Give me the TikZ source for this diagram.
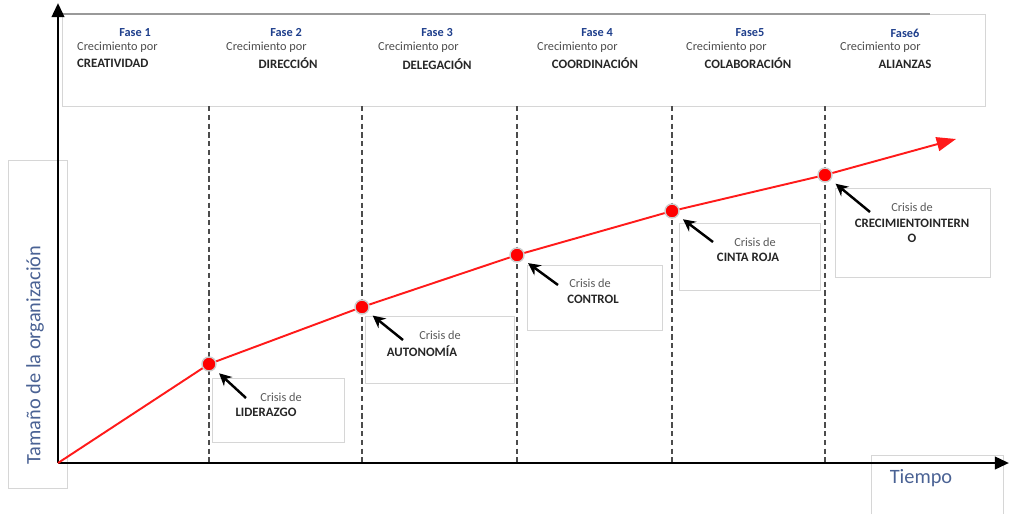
\documentclass[tikz,border=0pt]{standalone}
\usepackage{fontspec}
\setmainfont{Carlito}
\usetikzlibrary{arrows.meta}
\definecolor{fasecol}{HTML}{1F3F8C}
\definecolor{ejecol}{HTML}{4A6294}
\definecolor{cajagris}{HTML}{D6D6D6}
\definecolor{rojo}{HTML}{FF1A1A}
\tikzset{
  caja/.style={draw=cajagris, line width=0.5pt},
  eje/.style={line width=1.6pt, -{Triangle[length=8pt,width=7pt]}},
  guia/.style={black!70, line width=0.9pt, densely dashed},
  linea/.style={rojo, line width=1.1pt},
  punto/.style={circle, fill=red, draw=black!20, line width=0.8pt, inner sep=0pt, minimum size=0.28cm},
  flecha/.style={line width=1.4pt, -{Stealth[length=7pt,width=7pt]}, shorten >=0.12cm},
  fase/.style={font=\fontsize{7}{8}\selectfont\bfseries, text=fasecol},
  crec/.style={font=\fontsize{7}{8}\selectfont, text=black!70, anchor=west},
  etapa/.style={font=\fontsize{7.3}{8}\selectfont\bfseries, text=black!85},
  crisis/.style={font=\fontsize{7}{8}\selectfont, text=black!65},
  titulo/.style={font=\fontsize{11.6}{13}\selectfont, text=ejecol}
}
\begin{document}
\begin{tikzpicture}[x=0.02cm, y=-0.02cm]
    \useasboundingbox (0,0) rectangle (1010,514);
    % cajas de fondo
    \draw[caja] (62,14) rectangle (985,106);
    \draw[black!40, line width=0.6pt] (62,14) -- (930,14);
    \draw[caja] (8,160) rectangle (67,488);
    \draw[caja] (871,514) -- (871,455) -- (1003,455) -- (1003,514);
    \draw[caja] (212,378) rectangle (344,442);
    \draw[caja] (365,316) rectangle (514,383);
    \draw[caja] (527,265) rectangle (662,330);
    \draw[caja] (679,223) rectangle (820,290);
    \draw[caja] (835,188) rectangle (990,277);
    % fases
    \foreach \x in {209,362,517,672,825}
        \draw[guia] (\x,106) -- (\x,463);
    \node[fase] (f1) at (135,33) {Fase 1};
    \node[fase] (f2) at (286,33) {Fase 2};
    \node[fase] (f3) at (437,33) {Fase 3};
    \node[fase] (f4) at (597,33) {Fase 4};
    \node[fase] (f5) at (750,33) {Fase5};
    \node[fase] (f6) at (905,33) {Fase6};
    \node[crec] (c1) at (71,47) {Crecimiento por};
    \node[crec] (c2) at (220,47) {Crecimiento por};
    \node[crec] (c3) at (372,47) {Crecimiento por};
    \node[crec] (c4) at (531,47) {Crecimiento por};
    \node[crec] (c5) at (680,47) {Crecimiento por};
    \node[crec] (c6) at (834,47) {Crecimiento por};
    \node[etapa, anchor=west] (e1) at (71,63) {CREATIVIDAD};
    \node[etapa] (e2) at (288,63) {DIRECCIÓN};
    \node[etapa] (e3) at (437,64) {DELEGACIÓN};
    \node[etapa] (e4) at (595,63) {COORDINACIÓN};
    \node[etapa] (e5) at (748,63) {COLABORACIÓN};
    \node[etapa] (e6) at (905,64) {ALIANZAS};
    % ejes
    \coordinate (o) at (58,463);
    \coordinate (ytop) at (58,3);
    \coordinate (xfin) at (1009,463);
    \draw[eje] (o) -- (ytop);
    \draw[eje] (o) -- (xfin);
    \node[titulo, rotate=90] (ylab) at (35,355) {Tamaño de la organización};
    \node[titulo] (xlab) at (921,478) {Tiempo};
    % curva de crecimiento
    \node[punto] (p1) at (209,364) {};
    \node[punto] (p2) at (362,307) {};
    \node[punto] (p3) at (517,255) {};
    \node[punto] (p4) at (672,211) {};
    \node[punto] (p5) at (825,175) {};
    \coordinate (fin) at (956,139);
    \draw[linea] (o) -- (p1) -- (p2) -- (p3) -- (p4) -- (p5);
    \draw[linea, -{Triangle[length=11pt,width=8pt]}] (p5) -- (fin);
    % crisis
    \coordinate (a1) at (246,398);
    \coordinate (a2) at (403,340);
    \coordinate (a3) at (558,285);
    \coordinate (a4) at (713,242);
    \coordinate (a5) at (870,212);
    \foreach \i in {1,...,5}
        \draw[flecha] (a\i) -- (p\i);
    \node[crisis] (k1) at (281,397) {Crisis de};
    \node[etapa] (l1) at (266,412) {LIDERAZGO};
    \node[crisis] (k2) at (440,335) {Crisis de};
    \node[etapa] (l2) at (422,351) {AUTONOMÍA};
    \node[crisis] (k3) at (590,283) {Crisis de};
    \node[etapa] (l3) at (593,299) {CONTROL};
    \node[crisis] (k4) at (755,242) {Crisis de};
    \node[etapa] (l4) at (748,257) {CINTA ROJA};
    \node[crisis] (k5) at (912,207) {Crisis de};
    \node[etapa] (l5) at (912,223) {CRECIMIENTOINTERN};
    \node[etapa] (l5b) at (912,238) {O};
\end{tikzpicture}
\end{document}
